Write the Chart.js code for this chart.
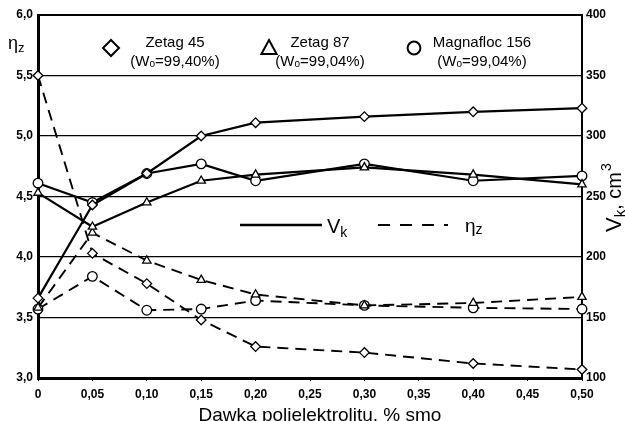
<html>
<head>
<meta charset="utf-8">
<title>Dawka polielektrolitu</title>
<script src="https://cdn.jsdelivr.net/npm/chart.js@4.4.1/dist/chart.umd.min.js"></script>
<style>
    html, body { margin: 0; padding: 0; background: #fff; }
    .container { width: 625px; height: 421px; }
</style>
</head>
<body>
<div class="container">
    <canvas id="myChart" width="625" height="421"></canvas>
</div>
<script>
    // dose of polyelectrolyte, % smo
    let doses = [0, 0.05, 0.10, 0.15, 0.20, 0.30, 0.40, 0.50];

    // V_k, cm3 (right axis, solid lines)
    let vkZetag45 = [166, 243, 269, 300, 311, 316, 320, 323];
    let vkZetag87 = [253, 225, 245, 263, 268, 274, 268, 260];
    let vkMagnafloc = [261, 245, 269, 277, 263, 277, 263, 267];

    // eta_z (left axis, dashed lines)
    let etaZetag45 = [5.50, 4.03, 3.78, 3.48, 3.26, 3.21, 3.12, 3.07];
    let etaZetag87 = [3.58, 4.20, 3.97, 3.81, 3.69, 3.60, 3.62, 3.67];
    let etaMagnafloc = [3.57, 3.84, 3.56, 3.57, 3.64, 3.60, 3.58, 3.57];

    let seriesNames = ["Zetag 45", "Zetag 87", "Magnafloc 156"];
    let seriesWo = ["99,40%", "99,04%", "99,04%"];

    const FONT = "'Liberation Sans', Arial, sans-serif";

    function toPoints(values) {
        return doses.map(function (d, i) { return { x: d, y: values[i] }; });
    }

    function makeSet(values, style, axis, dashed) {
        return {
            data: toPoints(values),
            yAxisID: axis,
            borderColor: "#000",
            borderWidth: dashed ? 1.9 : 2.2,
            borderDash: dashed ? [11, 7] : [],
            pointStyle: style,
            pointRadius: 4.8,
            pointBackgroundColor: "#fff",
            pointBorderColor: "#000",
            pointBorderWidth: 1.3,
            tension: 0,
            fill: false,
            clip: false
        };
    }

    function drawMarker(ctx, style, x, y, r) {
        ctx.beginPath();
        if (style === "rectRot") {
            ctx.moveTo(x, y - r); ctx.lineTo(x + r, y); ctx.lineTo(x, y + r); ctx.lineTo(x - r, y);
            ctx.closePath();
        } else if (style === "triangle") {
            ctx.moveTo(x, y - r); ctx.lineTo(x + r * 0.95, y + r * 0.75); ctx.lineTo(x - r * 0.95, y + r * 0.75);
            ctx.closePath();
        } else {
            ctx.arc(x, y, r * 0.8, 0, Math.PI * 2);
        }
        ctx.fillStyle = "#fff";
        ctx.fill();
        ctx.stroke();
    }

    // text with a lowered small letter, e.g. eta_z
    function subText(ctx, main, sub, x, y, size, subSize, drop) {
        ctx.font = size + "px " + FONT;
        ctx.fillText(main, x, y);
        let w = ctx.measureText(main).width;
        ctx.font = subSize + "px " + FONT;
        ctx.fillText(sub, x + w, y + drop);
        return w + ctx.measureText(sub).width;
    }

    let decorPlugin = {
        id: "decor",
        afterDraw: function (chart) {
            let ctx = chart.ctx;
            let a = chart.chartArea;
            ctx.save();
            ctx.strokeStyle = "#000";
            ctx.fillStyle = "#000";

            // frame: top edge
            ctx.lineWidth = 2;
            ctx.beginPath();
            ctx.moveTo(a.left, a.top); ctx.lineTo(a.right, a.top);
            ctx.stroke();

            // top legend with markers
            let styles = ["rectRot", "triangle", "circle"];
            let mx = [111, 269, 414];
            let tx = [175, 320, 482];
            ctx.lineWidth = 2;
            for (let i = 0; i < 3; i++) {
                drawMarker(ctx, styles[i], mx[i], 48, 8);
                ctx.fillStyle = "#000";
                ctx.textAlign = "center";
                ctx.textBaseline = "alphabetic";
                ctx.font = "15px " + FONT;
                ctx.fillText(seriesNames[i], tx[i], 47);
                // (Wo=..)
                let p1 = "(W", p2 = "o", p3 = "=" + seriesWo[i] + ")";
                let w1 = ctx.measureText(p1).width;
                let w3 = ctx.measureText(p3).width;
                ctx.font = "10px " + FONT;
                let w2 = ctx.measureText(p2).width;
                let start = tx[i] - (w1 + w2 + w3) / 2;
                ctx.textAlign = "left";
                ctx.font = "15px " + FONT;
                ctx.fillText(p1, start, 66);
                ctx.font = "10px " + FONT;
                ctx.fillText(p2, start + w1, 67);
                ctx.font = "15px " + FONT;
                ctx.fillText(p3, start + w1 + w2, 66);
            }

            // line-style legend in the middle
            ctx.lineWidth = 2.6;
            ctx.beginPath();
            ctx.moveTo(240, 225); ctx.lineTo(322, 225);
            ctx.stroke();
            ctx.textAlign = "left";
            subText(ctx, "V", "k", 327, 233, 20, 14, 4);
            ctx.lineWidth = 2;
            ctx.setLineDash([12, 10]);
            ctx.beginPath();
            ctx.moveTo(378, 225); ctx.lineTo(448, 225);
            ctx.stroke();
            ctx.setLineDash([]);
            subText(ctx, "\u03b7", "z", 465, 232, 19, 14, 2);

            // left axis title
            subText(ctx, "\u03b7", "z", 8, 49, 18, 13, 3);

            // x axis title
            ctx.textAlign = "center";
            ctx.font = "19px " + FONT;
            ctx.fillText("Dawka polielektrolitu, % smo", 320, 421);

            // right axis title, rotated
            ctx.save();
            ctx.translate(621, 232);
            ctx.rotate(-Math.PI / 2);
            ctx.textAlign = "left";
            let w = subText(ctx, "V", "k", 0, 0, 22, 15, 4);
            ctx.font = "20px " + FONT;
            ctx.fillText(", cm", w, 0);
            let w2 = ctx.measureText(", cm").width;
            ctx.font = "14px " + FONT;
            ctx.fillText("3", w + w2 + 1, -10);
            ctx.restore();

            ctx.restore();
        }
    };

    let ctx = document.getElementById("myChart").getContext("2d");
    let myChart = new Chart(ctx, {
        type: "line",
        data: {
            datasets: [
                makeSet(vkZetag45, "rectRot", "y1", false),
                makeSet(vkZetag87, "triangle", "y1", false),
                makeSet(vkMagnafloc, "circle", "y1", false),
                makeSet(etaZetag45, "rectRot", "y", true),
                makeSet(etaZetag87, "triangle", "y", true),
                makeSet(etaMagnafloc, "circle", "y", true)
            ]
        },
        options: {
            responsive: false,
            animation: false,
            layout: { padding: { top: 15, left: 0, right: 0, bottom: 0 } },
            plugins: {
                legend: { display: false },
                tooltip: { enabled: false }
            },
            scales: {
                x: {
                    type: "linear",
                    min: 0,
                    max: 0.5,
                    afterFit: function (s) { s.height = 43; },
                    grid: { drawOnChartArea: false, drawTicks: true, tickLength: 3, color: "#000", lineWidth: 1 },
                    border: { display: true, color: "#000", width: 3 },
                    ticks: {
                        stepSize: 0.05,
                        maxRotation: 0,
                        padding: 6,
                        color: "#000",
                        font: { family: FONT, size: 12, weight: "bold" },
                        callback: function (v) {
                            return v === 0 ? "0" : v.toFixed(2).replace(".", ",");
                        }
                    }
                },
                y: {
                    position: "left",
                    min: 3,
                    max: 6,
                    afterFit: function (s) { s.width = 38; },
                    grid: { color: "#000", lineWidth: 1.3, drawTicks: false },
                    border: { display: true, color: "#000", width: 3 },
                    ticks: {
                        stepSize: 0.5,
                        padding: 5,
                        color: "#000",
                        font: { family: FONT, size: 12, weight: "bold" },
                        callback: function (v) { return v.toFixed(1).replace(".", ","); }
                    }
                },
                y1: {
                    position: "right",
                    min: 100,
                    max: 400,
                    afterFit: function (s) { s.width = 43; },
                    grid: { drawOnChartArea: false, drawTicks: false },
                    border: { display: true, color: "#000", width: 2 },
                    ticks: {
                        stepSize: 50,
                        padding: 4,
                        color: "#000",
                        font: { family: FONT, size: 12, weight: "bold" }
                    }
                }
            }
        },
        plugins: [decorPlugin]
    });
</script>
</body>
</html>
